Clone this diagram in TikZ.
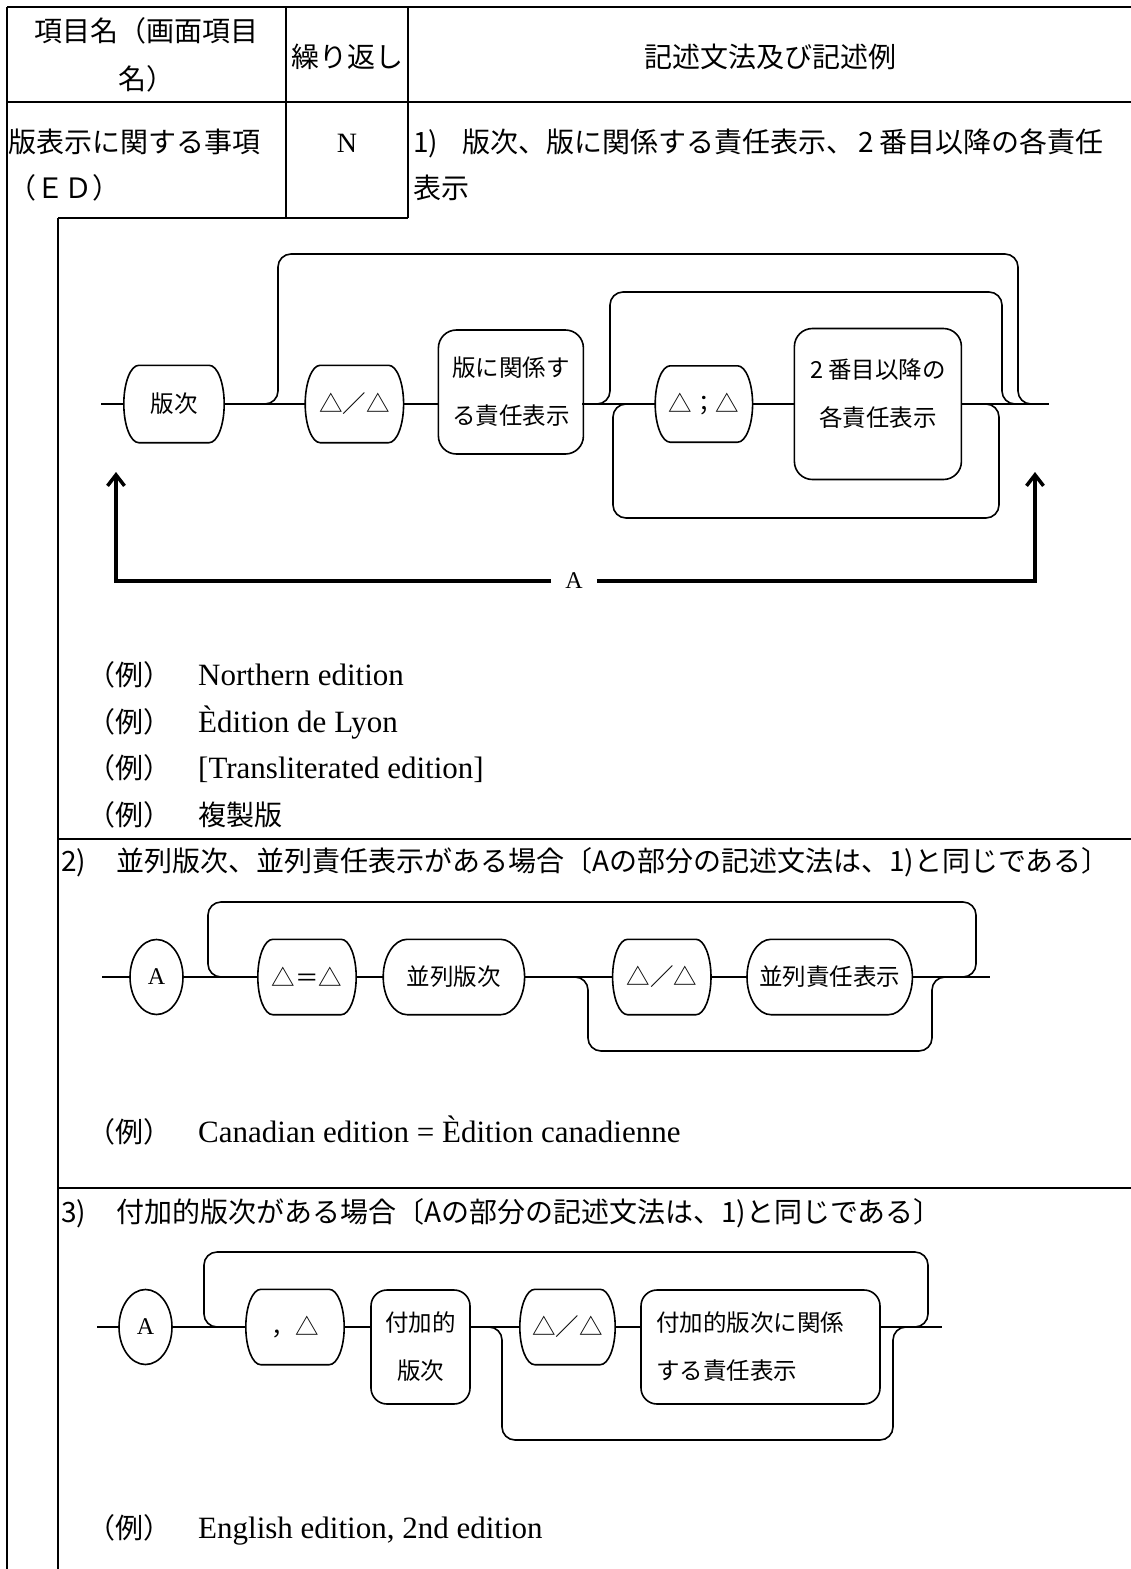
\documentclass[tikz,border=0pt]{standalone}
\usepackage{fontspec}
\setmainfont{Liberation Serif}
\newfontfamily\jpfont{Noto Sans CJK JP}
\usetikzlibrary{arrows.meta,calc,positioning,shapes.geometric}
\newcommand\cellfont{\jpfont\fontsize{28}{48}\selectfont}
\newcommand\boxfont{\jpfont\fontsize{23.5}{48}\selectfont}
\newcommand\exfont{\fontsize{31}{40}\selectfont}
\newcommand\letterfont{\fontsize{24}{30}\selectfont}
\tikzset{
  tablerule/.style={
    line width=2.2pt
  },
  railline/.style={
    line width=1.6pt
  },
  railloop/.style={
    line width=1.6pt,
    rounded corners=13pt
  },
  curvedbox/.style={
    rectangle,
    minimum height=75pt,
    inner sep=0pt,
    font=\boxfont,
    append after command={\pgfextra{\pgfinterruptpath
      \draw[line width=1.6pt]
        ([xshift=-#1]\tikzlastnode.north east)
        .. controls ([xshift=-0.45*#1]\tikzlastnode.north east) and ($(\tikzlastnode.east)!0.55!(\tikzlastnode.north east)$) .. (\tikzlastnode.east)
        .. controls ($(\tikzlastnode.east)!0.55!(\tikzlastnode.south east)$) and ([xshift=-0.45*#1]\tikzlastnode.south east) .. ([xshift=-#1]\tikzlastnode.south east)
        -- ([xshift=#1]\tikzlastnode.south west)
        .. controls ([xshift=0.45*#1]\tikzlastnode.south west) and ($(\tikzlastnode.west)!0.55!(\tikzlastnode.south west)$) .. (\tikzlastnode.west)
        .. controls ($(\tikzlastnode.west)!0.55!(\tikzlastnode.north west)$) and ([xshift=0.45*#1]\tikzlastnode.north west) .. ([xshift=#1]\tikzlastnode.north west)
        -- cycle;
      \endpgfinterruptpath}}
  },
  termbox/.style={
    curvedbox=15pt,
    minimum width=98pt
  },
  pillbox/.style={
    curvedbox=24pt
  },
  textbox/.style={
    rectangle,
    rounded corners=18pt,
    draw,
    line width=1.6pt,
    align=center,
    inner sep=0pt,
    font=\boxfont
  },
  aoval/.style={
    ellipse,
    draw,
    line width=1.6pt,
    minimum width=53pt,
    minimum height=75pt,
    inner sep=0pt,
    font=\letterfont
  },
  celltext/.style={
    anchor=base west,
    inner sep=0pt,
    font=\cellfont
  },
  extext/.style={
    anchor=base west,
    inner sep=0pt,
    font=\exfont
  },
  alabel/.style={
    inner xsep=14pt,
    inner ysep=0pt,
    font=\letterfont
  },
  aarrow/.style={
    -{Straight Barb[length=11pt,width=17pt]},
    line width=3.5pt
  }
}

\begin{document}
\begin{tikzpicture}[x=1pt,y=-1pt]
\useasboundingbox (0,0) rectangle (1131,1569);

% table frame
\draw[tablerule] (7,7) -- (1131,7);
\draw[tablerule] (7,7) -- (7,1569);
\draw[tablerule] (286,7) -- (286,218);
\draw[tablerule] (408,7) -- (408,218);
\draw[tablerule] (7,102) -- (1131,102);
\draw[tablerule] (58,218) -- (408,218);
\draw[tablerule] (58,218) -- (58,1569);
\draw[tablerule] (58,839) -- (1131,839);
\draw[tablerule] (58,1188) -- (1131,1188);

% header and first row
\node[celltext, anchor=base] (hdname) at (146.5,41) {項目名（画面項目};
\node[celltext, anchor=base] (hdname2) at (146.5,89) {名）};
\node[celltext, anchor=base] (hdrep) at (347,67) {繰り返し};
\node[celltext, anchor=base] (hdsyn) at (770,67) {記述文法及び記述例};
\node[celltext] (item) at (8,152) {版表示に関する事項};
\node[celltext] (item2) at (8,198) {（ＥＤ）};
\node[celltext, anchor=base, font=\fontsize{28}{48}\selectfont] (rep) at (347,152) {N};
\node[celltext] (sec1) at (413,152) {1)\hspace{24pt}版次、版に関係する責任表示、\hspace{4pt}2\hspace{6pt}番目以降の各責任};
\node[celltext] (sec1b) at (413,198) {表示};

% diagram 1
\node[termbox, minimum width=100pt, minimum height=77pt] (edn) at (174,404) {版次};
\node[termbox, minimum height=77pt, right=81pt of edn] (dsl) {△／△};
\node[textbox, minimum width=145pt, minimum height=124pt, right=34pt of dsl, yshift=12pt] (rel) {版に関係す\\る責任表示};
\node[termbox, minimum width=97pt, minimum height=76pt, right=71pt of rel, yshift=-12pt] (semi) {△；△};
\node[textbox, minimum width=167pt, minimum height=151pt, right=41pt of semi,
  label={[font=\boxfont, align=center, yshift=10pt]center:2 番目以降の\\各責任表示}] (nb) {};
\coordinate (r1in) at (101,404);
\coordinate (r1out) at (1049,404);
\draw[railline] (r1in) -- (edn) (edn) -- (dsl) (dsl.east) -- (dsl.east -| rel.west)
  (rel.east |- semi.west) -- (semi) (semi) -- (nb) (nb) -- (r1out);
\draw[railloop] (250,404) -- (278,404) -- (278,254) -- (1018,254) -- (1018,404) -- (1046,404);
\draw[railloop] (582,404) -- (610,404) -- (610,292) -- (1002,292) -- (1002,404) -- (1030,404);
\draw[railloop] (641,404) -- (613,404) -- (613,518) -- (999,518) -- (999,404) -- (971,404);

\node[alabel] (alab) at (574,581) {A};
\coordinate (aup1) at (116,472);
\coordinate (aup2) at (1035,472);
\draw[aarrow] (alab.west) -| (aup1);
\draw[aarrow] (alab.east) -| (aup2);

% examples 1
\node[celltext] (ex1m) at (87,685) {（例）};
\node[extext] (ex1t) at (198,685) {Northern edition};
\node[celltext] (ex2m) at (87,732) {（例）};
\node[extext] (ex2t) at (198,732) {Èdition de Lyon};
\node[celltext] (ex3m) at (87,778) {（例）};
\node[extext] (ex3t) at (198,778) {[Transliterated edition]};
\node[celltext] (ex4m) at (87,825) {（例）};
\node[celltext] (ex4t) at (198,825) {複製版};

% diagram 2
\node[celltext] (sec2) at (61,871) {2)\hspace{30pt}並列版次、並列責任表示がある場合〔Aの部分の記述文法は、1)と同じである〕};
\node[aoval] (a2) at (156.5,977) {A};
\node[termbox, right=74pt of a2] (eq) {△＝△};
\node[pillbox, minimum width=141pt, right=27pt of eq] (par) {並列版次};
\node[termbox, right=88pt of par] (dsl2) {△／△};
\node[pillbox, minimum width=165pt, right=36pt of dsl2] (parr) {並列責任表示};
\coordinate (r2in) at (102,977);
\coordinate (r2out) at (990,977);
\draw[railline] (r2in) -- (a2) (a2) -- (eq) (eq) -- (par) (par) -- (dsl2) (dsl2) -- (parr) (parr) -- (r2out);
\draw[railloop] (236,977) -- (208,977) -- (208,902) -- (976,902) -- (976,977) -- (948,977);
\draw[railloop] (560,977) -- (588,977) -- (588,1051) -- (932,1051) -- (932,977) -- (960,977);

\node[celltext] (ex5m) at (87,1142) {（例）};
\node[extext] (ex5t) at (198,1142) {Canadian edition = Èdition canadienne};

% diagram 3
\node[celltext] (sec3) at (61,1222) {3)\hspace{30pt}付加的版次がある場合〔Aの部分の記述文法は、1)と同じである〕};
\node[aoval] (a3) at (145.5,1327) {A};
\node[termbox, right=73pt of a3] (com) {，△};
\node[textbox, rounded corners=16pt, minimum width=99pt, minimum height=114pt, right=26pt of com, yshift=-20pt] (add) {付加的\\版次};
\node[termbox, minimum width=95pt, right=49pt of add, yshift=20pt] (dsl3) {△／△};
\node[textbox, rounded corners=16pt, align=left, text width=209pt, inner xsep=15pt, minimum height=114pt, right=25pt of dsl3, yshift=-20pt] (addr) {付加的版次に関係\\する責任表示};
\coordinate (r3in) at (97,1327);
\coordinate (r3out) at (942,1327);
\draw[railline] (r3in) -- (a3) (a3) -- (com) (com.east) -- (com.east -| add.west)
  (add.east |- dsl3.west) -- (dsl3) (dsl3.east) -- (dsl3.east -| addr.west) (addr.east |- r3out) -- (r3out);
\draw[railloop] (232,1327) -- (204,1327) -- (204,1252) -- (928,1252) -- (928,1327) -- (900,1327);
\draw[railloop] (474,1327) -- (502,1327) -- (502,1440) -- (893,1440) -- (893,1327) -- (921,1327);

\node[celltext] (ex6m) at (87,1538) {（例）};
\node[extext] (ex6t) at (198,1538) {English edition, 2nd edition};
\end{tikzpicture}
\end{document}
